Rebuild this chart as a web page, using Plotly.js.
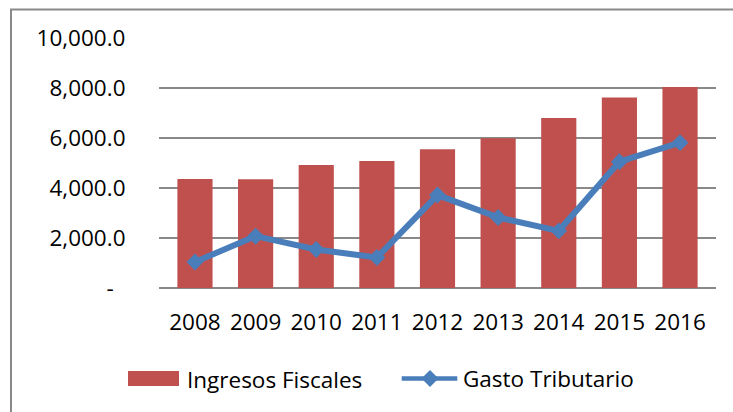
<!DOCTYPE html>
<html>
<head>
<meta charset="utf-8">
<script src="https://cdn.plot.ly/plotly-3.0.1.min.js"></script>
<style>html,body{margin:0;padding:0;background:#fff;}#chart{width:733px;height:412px;}</style>
</head>
<body>
<div id="chart"></div>
<script>
const years = ['2008','2009','2010','2011','2012','2013','2014','2015','2016'];
const ingresosFiscales = [4358, 4346, 4920, 5080, 5549, 5990, 6804, 7618, 8040];
const gastoTributario = [1043, 2073, 1540, 1219, 3717, 2823, 2286, 5052, 5814];
const yTickVals = [0, 2000, 4000, 6000, 8000, 10000];
const yTickText = ['-\u00a0\u00a0', '2,000.0', '4,000.0', '6,000.0', '8,000.0', '10,000.0'];
const seriesNames = ['Ingresos Fiscales', 'Gasto Tributario'];

const RED = '#c0504d', BLUE = '#4a7ebb', GRID = '#898989';
const FONT = {family: '"Open Sans", sans-serif', size: 22.5, color: '#000'};

// pixel -> paper helpers (plot area 159..716 x, 38..288 y)
const L = 159, R = 17, T = 38, B = 124, W = 733, H = 412;
const pw = W - L - R, ph = H - T - B;
const px = x => (x - L) / pw;
const py = y => (H - B - y) / ph;

const traces = [
  {type: 'bar', x: years, y: ingresosFiscales, name: seriesNames[0],
   marker: {color: RED}, showlegend: false, hoverinfo: 'x+y'},
  {type: 'scatter', mode: 'lines+markers', x: years, y: gastoTributario, name: seriesNames[1],
   line: {color: BLUE, width: 6}, marker: {symbol: 'diamond', size: 13, color: BLUE},
   showlegend: false}
];

const dcx = px(430), dcy = py(378.5), dhw = 8.5 / pw, dhh = 8.5 / ph;
const layout = {
  width: W, height: H,
  margin: {l: L, r: R, t: T, b: B, pad: 0},
  paper_bgcolor: '#fff', plot_bgcolor: '#fff',
  font: FONT,
  bargap: 0.42,
  xaxis: {type: 'category', showgrid: false, zeroline: false, showline: false,
          ticks: 'outside', ticklen: 14, tickcolor: 'rgba(0,0,0,0)', tickfont: FONT},
  yaxis: {range: [0, 10000], tickvals: yTickVals, ticktext: yTickText,
          showgrid: true, gridcolor: GRID, gridwidth: 2, zeroline: true, zerolinecolor: GRID, zerolinewidth: 2,
          showline: false, ticks: 'outside', ticklen: 28, tickcolor: 'rgba(0,0,0,0)', tickfont: FONT},
  shapes: [
    {type: 'rect', xref: 'paper', yref: 'paper', x0: px(11), x1: px(760), y0: py(9.5), y1: py(440),
     line: {color: GRID, width: 2}, fillcolor: 'rgba(0,0,0,0)', layer: 'below'},
    {type: 'rect', xref: 'paper', yref: 'paper', x0: px(128), x1: px(179), y0: py(386), y1: py(371),
     line: {width: 0}, fillcolor: RED},
    {type: 'line', xref: 'paper', yref: 'paper', x0: px(401.7), x1: px(457.3), y0: dcy, y1: dcy,
     line: {color: BLUE, width: 4.5}},
    {type: 'path', xref: 'paper', yref: 'paper',
     path: `M ${dcx - dhw},${dcy} L ${dcx},${dcy + dhh} L ${dcx + dhw},${dcy} L ${dcx},${dcy - dhh} Z`,
     line: {width: 0}, fillcolor: BLUE}
  ],
  annotations: [
    {xref: 'paper', yref: 'paper', x: px(185), y: py(379.5), xanchor: 'left', yanchor: 'middle',
     text: seriesNames[0], showarrow: false, font: FONT},
    {xref: 'paper', yref: 'paper', x: px(460.5), y: py(379), xanchor: 'left', yanchor: 'middle',
     text: seriesNames[1], showarrow: false, font: FONT}
  ]
};

Plotly.newPlot('chart', traces, layout, {displayModeBar: false, staticPlot: true});
</script>
</body>
</html>
